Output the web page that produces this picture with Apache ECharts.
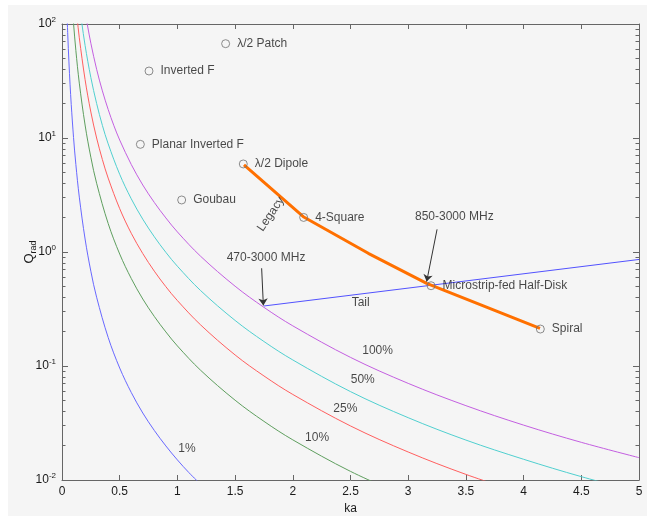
<!DOCTYPE html>
<html>
<head>
<meta charset="utf-8">
<script src="https://cdn.jsdelivr.net/npm/echarts@6/dist/echarts.min.js"></script>
<style>
  html, body { margin: 0; padding: 0; background: #fff; }
  #chart { position: absolute; left: 8px; top: 5px; width: 639px; height: 511px; }
</style>
</head>
<body>
<div id="chart"></div>
<script>
// efficiency curves (ka, Q_rad)
const ka1 = [0.04, 0.05, 0.06, 0.07, 0.08, 0.1, 0.12, 0.15, 0.2, 0.25, 0.3, 0.4, 0.5, 0.6, 0.7, 0.8, 0.9, 1.0, 1.1, 1.2];
const q1 = [156, 80.2, 46.5, 29.3, 19.7, 10.1, 5.87, 3.03, 1.30, 0.678, 0.401, 0.178, 0.096, 0.0586, 0.0387, 0.0272, 0.0199, 0.015, 0.0116, 0.0092];

const ka10 = [0.09, 0.1, 0.12, 0.15, 0.2, 0.25, 0.3, 0.4, 0.5, 0.6, 0.7, 0.8, 0.9, 1.0, 1.2, 1.5, 1.75, 2, 2.5, 3];
const q10 = [138, 101, 58.7, 30.3, 13.0, 6.78, 4.01, 1.78, 0.96, 0.586, 0.387, 0.272, 0.199, 0.15, 0.092, 0.0501, 0.0327, 0.0225, 0.0119, 0.00704];

const ka25 = [0.12, 0.13, 0.15, 0.2, 0.25, 0.3, 0.35, 0.4, 0.5, 0.6, 0.7, 0.8, 0.9, 1.0, 1.2, 1.5, 1.75, 2, 2.5, 3, 3.5, 4];
const q25 = [147, 116, 75.7, 32.5, 16.9, 10.0, 6.47, 4.45, 2.40, 1.46, 0.969, 0.679, 0.496, 0.375, 0.230, 0.125, 0.0818, 0.0563, 0.0298, 0.0176, 0.0112, 0.00758];

const ka50 = [0.15, 0.17, 0.2, 0.25, 0.3, 0.35, 0.4, 0.5, 0.6, 0.7, 0.8, 0.9, 1.0, 1.2, 1.5, 1.75, 2, 2.5, 3, 3.5, 4, 4.5, 5];
const q50 = [151, 105, 64.9, 33.9, 20.1, 12.9, 8.89, 4.80, 2.93, 1.94, 1.36, 0.993, 0.75, 0.46, 0.251, 0.164, 0.113, 0.0596, 0.0352, 0.0224, 0.0152, 0.0107, 0.00785];

const ka100 = [0.18, 0.2, 0.22, 0.25, 0.3, 0.35, 0.4, 0.45, 0.5, 0.6, 0.7, 0.8, 0.9, 1.0, 1.2, 1.5, 1.75, 2, 2.5, 3, 3.5, 4, 4.5, 5];
const q100 = [177, 130, 98.3, 67.8, 40.1, 25.9, 17.8, 12.8, 9.6, 5.86, 3.87, 2.72, 1.99, 1.5, 0.92, 0.501, 0.327, 0.225, 0.119, 0.0704, 0.0449, 0.0303, 0.0214, 0.0157];

// antennas
const antennaNames = ['λ/2 Patch', 'Inverted F', 'Planar Inverted F', 'λ/2 Dipole', 'Goubau', '4-Square', 'Microstrip-fed Half-Disk', 'Spiral'];
const antennaKa = [1.418, 0.754, 0.679, 1.571, 1.037, 2.094, 3.198, 4.145];
const antennaQ = [67.2, 38.7, 8.8, 5.92, 2.86, 2.01, 0.506, 0.211];

// legacy trend and tail line
const legacyKa = [1.577, 2.091, 2.654, 3.16, 4.142];
const legacyQ = [5.8, 2.04, 0.974, 0.531, 0.214];
const tailKa = [1.75, 5];
const tailQ = [0.336, 0.86];

// free text (left edge, vertical middle)
const noteText = ['850-3000 MHz', '470-3000 MHz', 'Tail', '100%', '50%', '25%', '10%', '1%'];
const noteKa = [3.059, 1.427, 2.51, 2.602, 2.502, 2.351, 2.106, 1.008];
const noteQ = [2.04, 0.885, 0.357, 0.1355, 0.0764, 0.0426, 0.0237, 0.0187];

// arrows: [from, to]
const arrows = [
    [[1.73, 0.72], [1.745, 0.34]],
    [[3.25, 1.58], [3.16, 0.55]]
];

const yMajor = [0.01, 0.1, 1, 10, 100];
const yMinor = [];
[0.01, 0.1, 1, 10].forEach(function (d) {
    for (let i = 2; i <= 9; i++) yMinor.push(+(d * i).toPrecision(2));
});

const font = 'Arial, "Liberation Sans", sans-serif';
const axisColor = '#666';
const textColor = '#1a1a1a';

function zip(xs, ys) {
    return xs.map(function (x, i) { return [x, ys[i]]; });
}

function curve(name, xs, ys, color) {
    return {
        name: name, type: 'line', data: zip(xs, ys),
        xAxisIndex: 0, yAxisIndex: 0,
        showSymbol: false, smooth: 0.35, clip: true,
        lineStyle: { color: color, width: 1 }, z: 2
    };
}

function xAxisCfg(pos) {
    return {
        type: 'value', min: 0, max: 5, interval: 0.5, position: pos,
        axisLine: { show: true, onZero: false, lineStyle: { color: axisColor } },
        axisTick: { show: true, inside: true, length: 5, lineStyle: { color: axisColor } },
        axisLabel: { show: pos === 'bottom', color: textColor, fontSize: 12, fontFamily: font, margin: 6 },
        splitLine: { show: false },
        name: pos === 'bottom' ? 'ka' : '',
        nameLocation: 'middle', nameGap: 23, nameMoveOverlap: false,
        nameTextStyle: { color: textColor, fontSize: 12, fontFamily: font }
    };
}

function yAxisCfg(pos, minor) {
    const cfg = {
        type: 'log', logBase: 10, min: 0.01, max: 100, position: pos,
        axisLine: { show: !minor, onZero: false, lineStyle: { color: axisColor } },
        axisTick: {
            show: true, inside: true, length: minor ? 3.5 : 6,
            customValues: minor ? yMinor : yMajor,
            lineStyle: { color: axisColor }
        },
        axisLabel: { show: false },
        splitLine: { show: false },
        minorTick: { show: false }
    };
    if (pos === 'left' && !minor) {
        cfg.axisLabel = {
            show: true, margin: 6, customValues: yMajor,
            formatter: function (v) {
                const e = Math.round(Math.log10(v));
                return '{b|10}{e|' + e + '}';
            },
            rich: {
                b: { fontSize: 12, color: textColor, fontFamily: font },
                e: { fontSize: 8, color: textColor, fontFamily: font, padding: [0, 0, 9, 0] }
            }
        };
        cfg.name = '{q|Q}{s|rad}';
        cfg.nameLocation = 'middle';
        cfg.nameGap = 24;
        cfg.nameMoveOverlap = false;
        cfg.nameTextStyle = {
            rich: {
                q: { fontSize: 13, color: textColor, fontFamily: font },
                s: { fontSize: 9, color: textColor, fontFamily: font, padding: [8, 0, 0, 0] }
            }
        };
    }
    return cfg;
}

const chart = echarts.init(document.getElementById('chart'));

chart.setOption({
    animation: false,
    backgroundColor: '#f5f5f5',
    grid: { left: 54, right: 8, top: 19, bottom: 36, containLabel: false, outerBoundsMode: 'none' },
    xAxis: [xAxisCfg('bottom'), xAxisCfg('top')],
    yAxis: [yAxisCfg('left', false), yAxisCfg('left', true), yAxisCfg('right', false), yAxisCfg('right', true)],
    series: [
        curve('1%', ka1, q1, '#6868ff'),
        curve('10%', ka10, q10, '#5e9e5e'),
        curve('25%', ka25, q25, '#ff5e5e'),
        curve('50%', ka50, q50, '#50cfcf'),
        curve('100%', ka100, q100, '#c35fe0'),
        {
            name: 'Tail', type: 'line', data: zip(tailKa, tailQ),
            showSymbol: false, clip: true,
            lineStyle: { color: '#5252ff', width: 1 }, z: 3,
            markLine: {
                silent: true, symbol: ['none', 'arrow'], symbolSize: 7,
                label: { show: false },
                lineStyle: { color: '#333', width: 1, type: 'solid' },
                data: arrows.map(function (a) {
                    return [{ coord: a[0] }, { coord: a[1] }];
                })
            }
        },
        {
            name: 'Legacy', type: 'line', data: zip(legacyKa, legacyQ),
            showSymbol: false, smooth: false, clip: true,
            lineStyle: { color: '#ff7000', width: 3, join: 'round' }, z: 4
        },
        {
            name: 'antennas', type: 'scatter',
            data: antennaKa.map(function (k, i) {
                return { value: [k, antennaQ[i]], name: antennaNames[i] };
            }),
            symbol: 'circle', symbolSize: 8,
            itemStyle: { color: 'rgba(0,0,0,0)', borderColor: '#707070', borderWidth: 1 },
            label: {
                show: true, position: 'right', distance: 7,
                formatter: '{b}', color: textColor, fontSize: 12, fontFamily: font
            },
            z: 5
        },
        {
            name: 'notes', type: 'scatter',
            data: noteKa.map(function (k, i) {
                return { value: [k, noteQ[i]], name: noteText[i] };
            }),
            symbolSize: 0,
            label: {
                show: true, position: 'right', distance: 0,
                formatter: '{b}', color: textColor, fontSize: 12, fontFamily: font
            },
            z: 5
        },
        {
            name: 'legacyLabel', type: 'scatter',
            data: [{ value: [1.81, 2.15], name: 'Legacy' }],
            symbolSize: 0,
            label: {
                show: true, position: 'inside', rotate: 56,
                formatter: '{b}', color: textColor, fontSize: 12, fontFamily: font
            },
            z: 5
        }
    ]
});
</script>
</body>
</html>
